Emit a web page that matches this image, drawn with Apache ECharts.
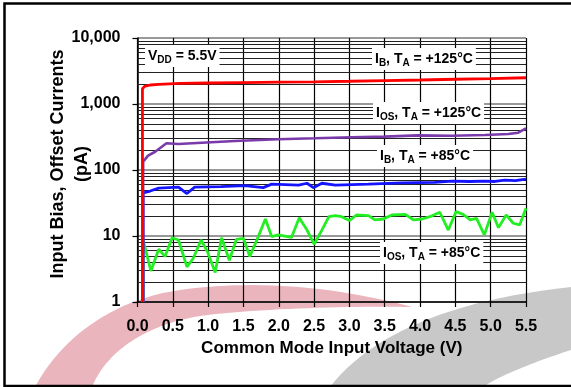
<!DOCTYPE html>
<html>
<head>
<meta charset="utf-8">
<script src="https://cdn.jsdelivr.net/npm/echarts@6/dist/echarts.min.js"></script>
<style>
  html, body { margin: 0; padding: 0; background: #fff; }
  #chart { width: 571px; height: 387px; }
</style>
</head>
<body>
<div id="chart"></div>
<script>
// Input bias / offset current vs. common mode input voltage, VDD = 5.5 V
const xTickLabels = ['0.0', '0.5', '1.0', '1.5', '2.0', '2.5', '3.0', '3.5', '4.0', '4.5', '5.0', '5.5'];
const yTickLabels = ['1', '10', '100', '1,000', '10,000'];

// [V_CM (V), current (pA)]
const ibAt125 = [
  [0.07, 1], [0.07, 1700], [0.1, 1850], [0.18, 1940], [0.3, 1990], [0.6, 2050],
  [1.0, 2080], [1.5, 2110], [2.0, 2140], [2.5, 2170], [3.0, 2210], [3.5, 2260],
  [4.0, 2310], [4.5, 2370], [5.0, 2430], [5.5, 2500]
];
const iosAt125 = [
  [0.08, 1], [0.08, 134], [0.15, 165], [0.25, 189], [0.41, 254], [0.58, 248],
  [0.91, 259], [1.38, 275], [1.99, 292], [2.51, 302], [3.03, 313], [3.5, 320],
  [3.97, 335], [4.45, 331], [4.92, 339], [5.25, 351], [5.39, 367], [5.5, 427]
];
const ibAt85 = [
  [0.08, 1], [0.08, 45], [0.18, 48], [0.3, 53], [0.58, 55], [0.7, 44], [0.81, 55],
  [1.18, 56], [1.52, 58], [1.78, 54], [1.9, 61], [2.28, 59], [2.4, 63], [2.49, 54],
  [2.61, 63], [2.8, 59], [3.27, 61], [3.74, 64], [4.21, 65], [4.45, 68], [4.7, 67],
  [4.92, 68], [5.06, 67], [5.2, 70], [5.35, 69], [5.5, 73]
];
const iosAt85 = [
  [0.08, 1], [0.08, 8.7], [0.19, 2.95], [0.3, 6.3], [0.39, 4.9], [0.49, 9.4],
  [0.58, 8.7], [0.7, 3.4], [0.79, 4.6], [0.9, 8.7], [0.99, 5.8], [1.1, 2.8],
  [1.19, 9.4], [1.3, 4.3], [1.4, 8.9], [1.5, 9.2], [1.59, 4.9], [1.71, 9.8],
  [1.81, 18.1], [1.9, 9.8], [1.99, 10.4], [2.18, 9.5], [2.29, 18.9], [2.4, 12.3],
  [2.5, 7.5], [2.61, 12.3], [2.71, 19.6], [2.8, 20.3], [2.89, 19.6], [3.0, 17.1],
  [3.1, 20.8], [3.27, 20.3], [3.36, 17.5], [3.48, 18.1], [3.6, 20.8], [3.79, 21.3],
  [3.91, 17.5], [4.03, 18.1], [4.14, 19.6], [4.28, 22.9], [4.4, 12.3], [4.51, 23.4],
  [4.61, 21.3], [4.71, 17.5], [4.8, 18.5], [4.91, 10.4], [5.02, 22.9], [5.11, 13.4],
  [5.22, 20.8], [5.32, 15.6], [5.41, 14.7], [5.5, 26.3]
];

// log-decade minor gridlines (2..9 within each decade)
const minorGrid = [];
for (let d = 1; d < 10000; d *= 10) {
  for (let k = 2; k <= 9; k++) minorGrid.push(k * d);
}

const FONT = '"Liberation Sans", Arial, Helvetica, sans-serif';

// sample a chain of cubic Bezier segments into polygon points
function bezierOutline(start, segs) {
  const pts = [start];
  let p0 = start;
  segs.forEach(s => {
    const [c1, c2, p3] = s;
    for (let i = 1; i <= 24; i++) {
      const t = i / 24, u = 1 - t;
      pts.push([
        u * u * u * p0[0] + 3 * u * u * t * c1[0] + 3 * u * t * t * c2[0] + t * t * t * p3[0],
        u * u * u * p0[1] + 3 * u * u * t * c1[1] + 3 * u * t * t * c2[1] + t * t * t * p3[1]
      ]);
    }
    p0 = p3;
  });
  return pts;
}

function labelRich() {
  return {
    m: { fontSize: 14, fontWeight: 'bold', fontFamily: FONT, color: '#000', lineHeight: 18, verticalAlign: 'middle' },
    s: { fontSize: 10, fontWeight: 'bold', fontFamily: FONT, color: '#000', lineHeight: 11, verticalAlign: 'bottom' }
  };
}
function annot(x, y, text) {
  return {
    type: 'text', x: x, y: y, z: 100,
    style: {
      text: text, rich: labelRich(), backgroundColor: '#fff',
      padding: [2, 3, 2, 3], align: 'left', verticalAlign: 'top'
    }
  };
}

const pinkSwoosh = bezierOutline([35, 387], [
  [[60, 340], [110, 300], [180, 290]],
  [[250, 280], [330, 285], [412, 307]],
  [[360, 306], [260, 308], [200, 316]],
  [[140, 326], [105, 355], [92, 387]]
]);
const graySwoosh = bezierOutline([330, 387], [
  [[370, 335], [450, 300], [571, 287]],
  [[571, 310], [571, 330], [571, 350]],
  [[540, 360], [500, 375], [483, 387]]
]);

const chart = echarts.init(document.getElementById('chart'), null, { renderer: 'canvas' });

chart.setOption({
  animation: false,
  backgroundColor: '#fff',
  grid: { left: 137.5, right: 45, top: 38, bottom: 85, containLabel: false, outerBoundsMode: 'none' },
  xAxis: {
    type: 'value', min: 0, max: 5.5, interval: 0.5,
    name: 'Common Mode Input Voltage (V)',
    nameLocation: 'middle', nameGap: 38,
    nameTextStyle: { fontSize: 17, fontWeight: 'bold', fontFamily: FONT, color: '#000' },
    axisLine: { show: true, lineStyle: { color: '#000', width: 1.5 } },
    axisTick: { show: true, length: 5, lineStyle: { color: '#000', width: 1.2 } },
    axisLabel: {
      margin: 17, fontSize: 16, fontWeight: 'bold', fontFamily: FONT, color: '#000',
      formatter: v => xTickLabels[Math.round(v / 0.5)]
    },
    splitLine: { show: true, lineStyle: { color: '#000', width: 1.2 } }
  },
  yAxis: {
    type: 'log', logBase: 10, min: 1, max: 10000, splitNumber: 4,
    axisLine: { show: true, lineStyle: { color: '#000', width: 1.5 } },
    axisTick: { show: true, length: 5, lineStyle: { color: '#000', width: 1.2 } },
    axisLabel: {
      margin: 17, fontSize: 16, fontWeight: 'bold', fontFamily: FONT, color: '#000',
      formatter: v => yTickLabels[Math.round(Math.log10(v))] || ''
    },
    splitLine: { show: true, lineStyle: { color: '#777', width: 1.5 } }
  },
  series: [
    {
      type: 'line', data: [], z: 1, silent: true,
      markLine: {
        z: 1, silent: true, symbol: 'none', animation: false,
        label: { show: false },
        lineStyle: { color: '#222', width: 1, type: 'solid' },
        emphasis: { disabled: true },
        data: minorGrid.map(v => ({ yAxis: v }))
      }
    },
    { name: 'IOS 85', type: 'line', data: iosAt85, showSymbol: false, z: 3,
      lineStyle: { color: '#22ee22', width: 2.8 } },
    { name: 'IB 85', type: 'line', data: ibAt85, showSymbol: false, z: 4,
      lineStyle: { color: '#1414ff', width: 2.8 } },
    { name: 'IOS 125', type: 'line', data: iosAt125, showSymbol: false, z: 5,
      lineStyle: { color: '#7a3aaa', width: 2.6 } },
    { name: 'IB 125', type: 'line', data: ibAt125, showSymbol: false, z: 6,
      lineStyle: { color: '#ff0000', width: 2.8 } }
  ],
  graphic: [
    // decorative swooshes behind the plot
    { type: 'polygon', z: -10, silent: true,
      shape: { points: pinkSwoosh }, style: { fill: '#eab5bd' } },
    { type: 'polygon', z: -10, silent: true,
      shape: { points: graySwoosh }, style: { fill: '#c8c8c8' } },
    // frame
    { type: 'polyline', z: 100, silent: true,
      shape: { points: [[580, 3.5], [4.5, 3.5], [4.5, 386], [580, 386]] },
      style: { stroke: '#000', lineWidth: 2.5, fill: null } },
    // y axis title
    { type: 'text', x: 70, y: 164, rotation: Math.PI / 2, z: 100,
      style: {
        text: 'Input Bias, Offset Currents\n(pA)', fontSize: 18, fontWeight: 'bold',
        fontFamily: FONT, fill: '#000', align: 'center', verticalAlign: 'middle', lineHeight: 24
      } },
    annot(145, 45, '{m|V}{s|DD}{m| = 5.5V}'),
    annot(372, 48, '{m|I}{s|B}{m|, T}{s|A}{m| = +125°C}'),
    annot(373, 102, '{m|I}{s|OS}{m|, T}{s|A}{m| = +125°C}'),
    annot(377, 145, '{m|I}{s|B}{m|, T}{s|A}{m| = +85°C}'),
    annot(380, 242, '{m|I}{s|OS}{m|, T}{s|A}{m| = +85°C}')
  ]
});
</script>
</body>
</html>
